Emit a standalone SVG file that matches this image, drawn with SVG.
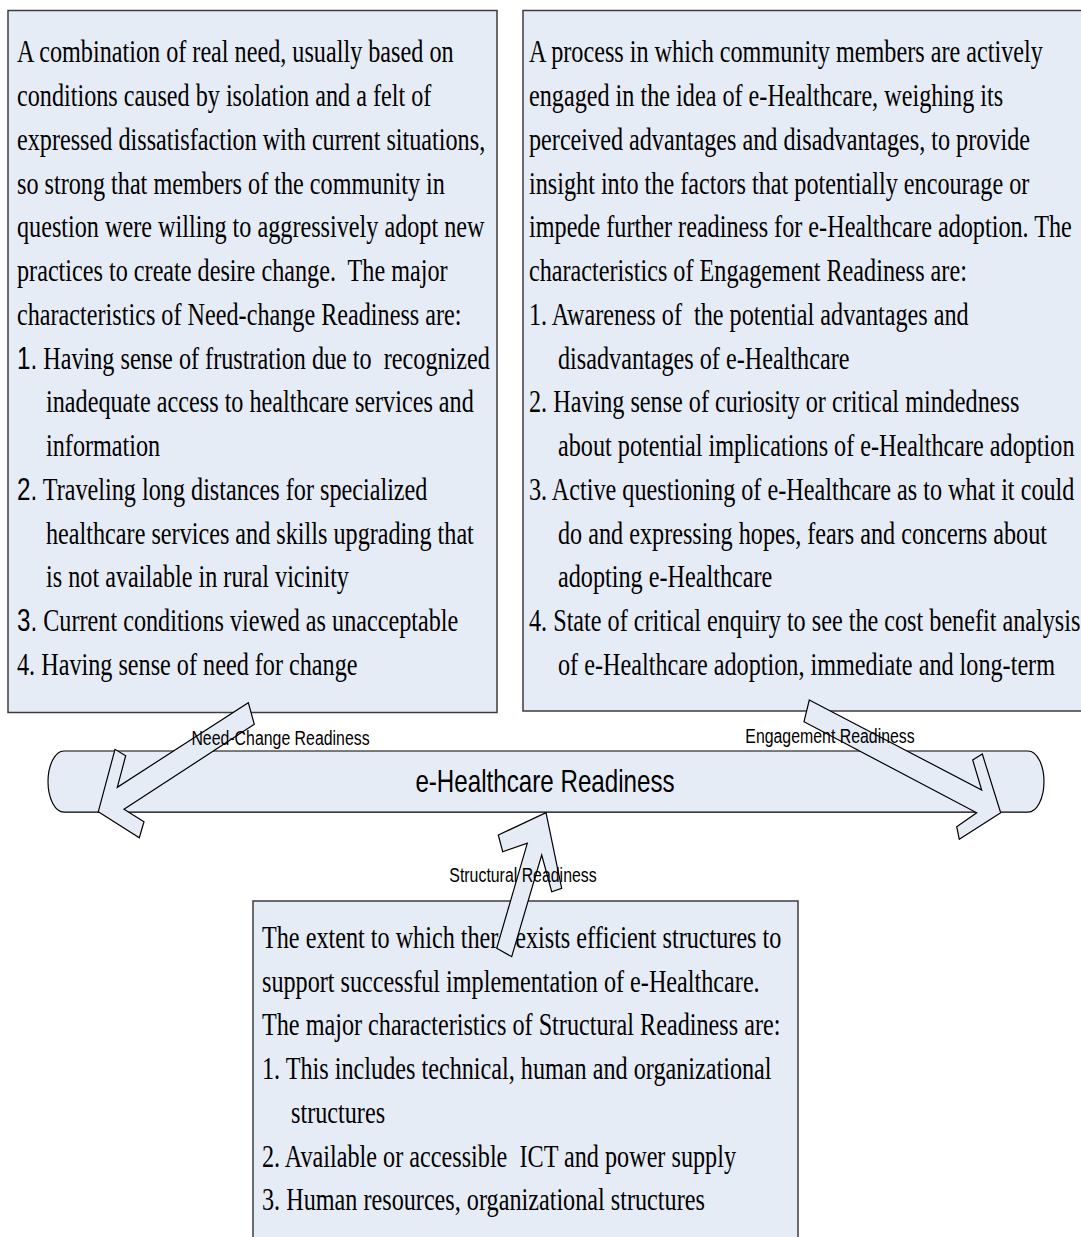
<svg xmlns="http://www.w3.org/2000/svg" width="1081" height="1237" viewBox="0 0 1081 1237" xml:space="preserve">
<style>
.box{fill:#e6ecf6;stroke:#3c3c3c;stroke-width:1.5}
.shape{fill:#e6ecf6;stroke:#000;stroke-width:1.2;stroke-linejoin:miter}
.t{font-family:"Liberation Serif","Times New Roman",serif;font-size:32px;fill:#000;white-space:pre}
.s{font-family:"Liberation Sans",Arial,sans-serif}
.lbl{font-family:"Liberation Sans",Arial,sans-serif;font-size:21px;fill:#000;text-anchor:middle}
.main{font-family:"Liberation Sans",Arial,sans-serif;font-size:31px;fill:#000;text-anchor:middle}
</style>
<g id="need-change-box">
<rect class="box" x="8" y="10.5" width="489" height="702"/>
<g transform="translate(17 0) scale(0.756 1)">
<text class="t" x="0" y="62.5">A combination of real need, usually based on</text>
<text class="t" x="0" y="106.25">conditions caused by isolation and a felt of</text>
<text class="t" x="0" y="150">expressed dissatisfaction with current situations,</text>
<text class="t" x="0" y="193.75">so strong that members of the community in</text>
<text class="t" x="0" y="237.5">question were willing to aggressively adopt new</text>
<text class="t" x="0" y="281.25">practices to create desire change.  The major</text>
<text class="t" x="0" y="325">characteristics of Need-change Readiness are:</text>
<text class="t" x="0" y="368.75"><tspan class="s">1.</tspan> Having sense of frustration due to  recognized</text>
<text class="t" x="38.4" y="412.5">inadequate access to healthcare services and</text>
<text class="t" x="38.4" y="456.25">information</text>
<text class="t" x="0" y="500"><tspan class="s">2.</tspan> Traveling long distances for specialized</text>
<text class="t" x="38.4" y="543.75">healthcare services and skills upgrading that</text>
<text class="t" x="38.4" y="587.5">is not available in rural vicinity</text>
<text class="t" x="0" y="631.25"><tspan class="s">3.</tspan> Current conditions viewed as unacceptable</text>
<text class="t" x="0" y="675">4. Having sense of need for change</text>
</g>
</g>
<g id="engagement-box">
<rect class="box" x="523" y="10.5" width="570" height="700.5"/>
<g transform="translate(529 0) scale(0.756 1)">
<text class="t" x="0" y="62.5">A process in which community members are actively</text>
<text class="t" x="0" y="106.25">engaged in the idea of e-Healthcare, weighing its</text>
<text class="t" x="0" y="150">perceived advantages and disadvantages, to provide</text>
<text class="t" x="0" y="193.75">insight into the factors that potentially encourage or</text>
<text class="t" x="0" y="237.5">impede further readiness for e-Healthcare adoption. The</text>
<text class="t" x="0" y="281.25">characteristics of Engagement Readiness are:</text>
<text class="t" x="0" y="325">1. Awareness of  the potential advantages and</text>
<text class="t" x="38.4" y="368.75">disadvantages of e-Healthcare</text>
<text class="t" x="0" y="412.5">2. Having sense of curiosity or critical mindedness</text>
<text class="t" x="38.4" y="456.25">about potential implications of e-Healthcare adoption</text>
<text class="t" x="0" y="500">3. Active questioning of e-Healthcare as to what it could</text>
<text class="t" x="38.4" y="543.75">do and expressing hopes, fears and concerns about</text>
<text class="t" x="38.4" y="587.5">adopting e-Healthcare</text>
<text class="t" x="0" y="631.25">4. State of critical enquiry to see the cost benefit analysis</text>
<text class="t" x="38.4" y="675">of e-Healthcare adoption, immediate and long-term</text>
</g>
</g>
<g id="structural-box">
<rect class="box" x="253" y="901" width="545" height="350"/>
<g transform="translate(262 0) scale(0.756 1)">
<text class="t" x="0" y="948">The extent to which there exists efficient structures to</text>
<text class="t" x="0" y="991.75">support successful implementation of e-Healthcare.</text>
<text class="t" x="0" y="1035.5">The major characteristics of Structural Readiness are:</text>
<text class="t" x="0" y="1079.25">1. This includes technical, human and organizational</text>
<text class="t" x="38.4" y="1123">structures</text>
<text class="t" x="0" y="1166.75">2. Available or accessible  ICT and power supply</text>
<text class="t" x="0" y="1210.5">3. Human resources, organizational structures</text>
</g>
</g>
<g id="e-healthcare-readiness">
<path class="shape" d="M64,751 H1028 A16,30.6 0 0 1 1028,812.2 H64 A16,30.6 0 0 1 64,751 Z"/>
<text class="main" transform="translate(545 792) scale(0.78 1)">e-Healthcare Readiness</text>
</g>
<g id="connectors">
<polygon class="shape" points="248.3,702.7 254.3,724.3 124,809.3 144,821.7 139.3,837.7 98.3,811.7 115,749.3 125.7,755.7 117.3,787.3"/>
<polygon class="shape" points="809.3,700 981.7,790 972.7,760 982.3,754 1000.7,812.7 959.3,839.3 956.7,826.7 976.7,812.7 804,721.7"/>
<polygon class="shape" points="546,812.7 561.7,888.3 551.7,891.7 541.7,855 511.7,956.7 496.7,948.3 527.3,843.3 502.7,851.7 498.3,835"/>
<text class="lbl" transform="translate(280.5 745) scale(0.756 1)">Need-Change Readiness</text>
<text class="lbl" transform="translate(830 743) scale(0.756 1)">Engagement Readiness</text>
<text class="lbl" transform="translate(523 882) scale(0.756 1)">Structural Readiness</text>
</g>
</svg>
